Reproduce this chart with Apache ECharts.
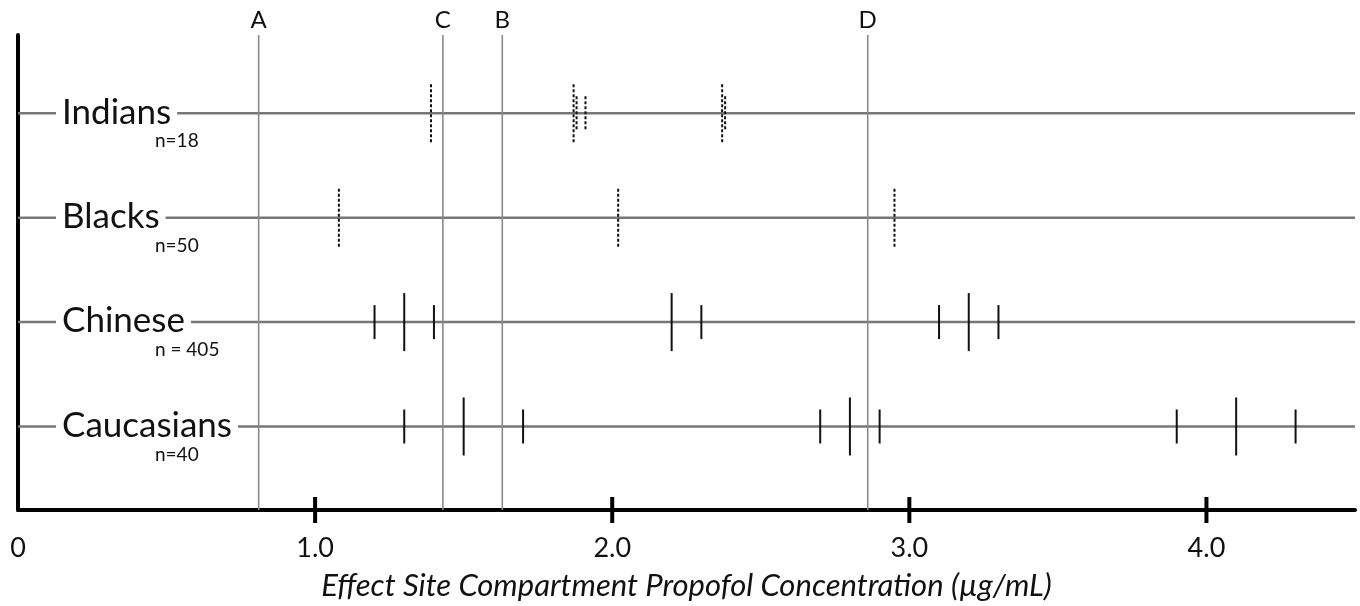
<!DOCTYPE html>
<html lang="en">
<head>
  <meta charset="UTF-8">
  <title>Propofol concentration by ethnic group</title>
  <script src="https://cdn.jsdelivr.net/npm/echarts@6/dist/echarts.min.js"></script>
  <style>html, body { margin: 0; padding: 0; background: #fff; }</style>
</head>
<body>
<div id="main" style="width: 1360px;height:606px;"></div>
<script type="text/javascript">
  // groups, top to bottom
  var groups = ['Indians', 'Blacks', 'Chinese', 'Caucasians'];
  var groupRow = [4, 3, 2, 1];
  var groupN = ['n=18', 'n=50', 'n = 405', 'n=40'];

  // concentration marks per group (tall = 1 for the long mark)
  var indiansValues = [1.39, 1.87, 1.88, 1.91, 2.37, 2.38];
  var indiansTall = [1, 1, 0, 0, 1, 0];
  var blacksValues = [1.08, 2.02, 2.95];
  var blacksTall = [1, 1, 1];
  var chineseValues = [1.2, 1.3, 1.4, 2.2, 2.3, 3.1, 3.2, 3.3];
  var chineseTall = [0, 1, 0, 1, 0, 0, 1, 0];
  var caucasiansValues = [1.3, 1.5, 1.7, 2.7, 2.8, 2.9, 3.9, 4.1, 4.3];
  var caucasiansTall = [0, 1, 0, 0, 1, 0, 0, 1, 0];

  // reference lines
  var refNames = ['A', 'C', 'B', 'D'];
  var refValues = [0.81, 1.43, 1.63, 2.86];

  // x axis
  var xMin = 0, xMax = 4.5;
  var xTicks = [1, 2, 3, 4];
  var yMin = 0.2, yMax = 4.75;
  var xTitle = 'Effect Site Compartment Propofol Concentration (\u00b5g/mL)';

  // build mark data: [value, row, tall, dashed]
  function marks(values, tall, row, dashed) {
    return values.map(function (v, i) { return [v, row, tall[i], dashed]; });
  }
  var markData = []
    .concat(marks(indiansValues, indiansTall, groupRow[0], 1))
    .concat(marks(blacksValues, blacksTall, groupRow[1], 1))
    .concat(marks(chineseValues, chineseTall, groupRow[2], 0))
    .concat(marks(caucasiansValues, caucasiansTall, groupRow[3], 0));

  var FONT = 'Lato, "Noto Sans", sans-serif';

  var myChart = echarts.init(document.getElementById('main'));

  myChart.setOption({
    animation: false,
    grid: { left: 18, right: 5, top: 35, bottom: 96, containLabel: false, outerBoundsMode: 'none' },
    xAxis: {
      type: 'value',
      min: xMin,
      max: xMax,
      interval: 1,
      name: xTitle,
      nameLocation: 'middle',
      nameGap: 60,
      nameTextStyle: { fontFamily: FONT, fontStyle: 'italic', fontSize: 31, color: '#111' },
      axisLine: { show: true, lineStyle: { color: '#000', width: 4 } },
      axisTick: { show: false },
      splitLine: { show: false },
      axisLabel: {
        margin: 25,
        fontFamily: FONT,
        fontSize: 27,
        color: '#111',
        showMaxLabel: false,
        formatter: function (v) {
          if (v > 4.01) return '';
          return v === 0 ? '0' : v.toFixed(1);
        }
      }
    },
    yAxis: {
      type: 'value',
      min: yMin,
      max: yMax,
      axisLine: { show: true, lineStyle: { color: '#000', width: 4 } },
      axisTick: { show: false },
      axisLabel: { show: false },
      splitLine: { show: false }
    },
    series: [
      {
        // group rows: horizontal line + labels
        type: 'custom',
        z: 2,
        data: groupRow.map(function (r) { return [0, r]; }),
        renderItem: function (params, api) {
          var i = params.dataIndex;
          var y = api.value(1);
          var p0 = api.coord([xMin, y]);
          var p1 = api.coord([xMax, y]);
          return {
            type: 'group',
            children: [
              {
                type: 'line',
                shape: { x1: p0[0], y1: p0[1], x2: p1[0], y2: p1[1] },
                style: { stroke: '#777', lineWidth: 2.5 }
              },
              {
                type: 'text',
                z2: 10,
                style: {
                  text: groups[i],
                  x: p0[0] + 38,
                  y: p0[1] - 1,
                  verticalAlign: 'middle',
                  font: '35px ' + FONT,
                  fill: '#111',
                  backgroundColor: '#fff',
                  padding: [0, 6, 0, 6]
                }
              },
              {
                type: 'text',
                z2: 10,
                style: {
                  text: groupN[i],
                  x: p0[0] + 137,
                  y: p0[1] + 28,
                  verticalAlign: 'middle',
                  font: '19px ' + FONT,
                  fill: '#111'
                }
              }
            ]
          };
        }
      },
      {
        // reference lines A-D
        type: 'custom',
        z: 3,
        data: refValues.map(function (v) { return [v]; }),
        renderItem: function (params, api) {
          var v = api.value(0);
          var top = api.coord([v, yMax]);
          var bot = api.coord([v, yMin]);
          return {
            type: 'group',
            children: [
              {
                type: 'line',
                shape: { x1: top[0], y1: top[1], x2: bot[0], y2: bot[1] },
                style: { stroke: '#8a8a8a', lineWidth: 1.6 }
              },
              {
                type: 'text',
                style: {
                  text: refNames[params.dataIndex],
                  x: top[0],
                  y: top[1] - 15,
                  align: 'center',
                  verticalAlign: 'middle',
                  font: '24px ' + FONT,
                  fill: '#111'
                }
              }
            ]
          };
        }
      },
      {
        // concentration marks
        type: 'custom',
        z: 5,
        data: markData,
        renderItem: function (params, api) {
          var p = api.coord([api.value(0), api.value(1)]);
          var h = api.value(2) ? 29 : 17;
          var dashed = api.value(3);
          return {
            type: 'line',
            shape: { x1: p[0], y1: p[1] - h, x2: p[0], y2: p[1] + h },
            style: {
              stroke: '#111',
              lineWidth: 2,
              lineDash: dashed ? [3, 2] : null
            }
          };
        }
      },
      {
        // axis ticks crossing the x axis
        type: 'custom',
        z: 6,
        data: xTicks.map(function (v) { return [v]; }),
        renderItem: function (params, api) {
          var p = api.coord([api.value(0), yMin]);
          return {
            type: 'line',
            shape: { x1: p[0], y1: p[1] - 13, x2: p[0], y2: p[1] + 13 },
            style: { stroke: '#000', lineWidth: 4 }
          };
        }
      }
    ]
  });
</script>
</body>
</html>
